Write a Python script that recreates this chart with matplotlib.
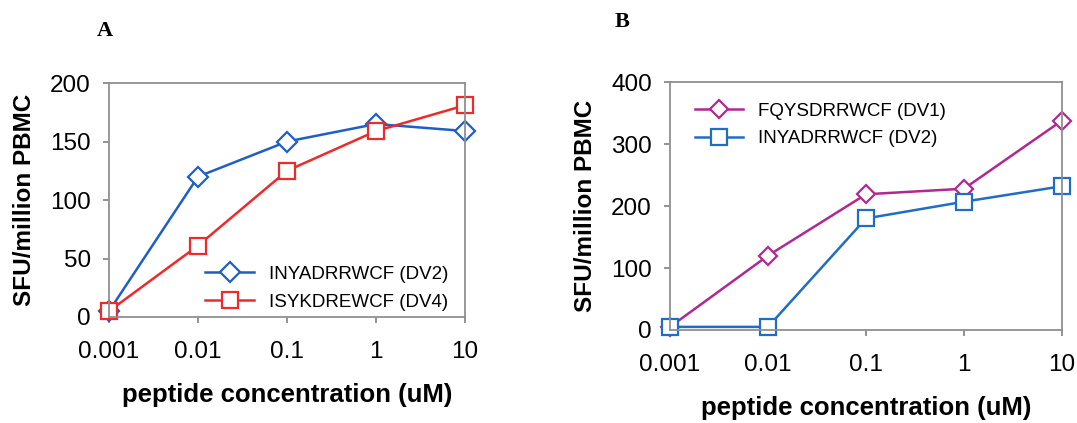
from matplotlib import pyplot as plt

conc = ['0.001', '0.01', '0.1', '1', '10']

# panel A
a_dv2 = [5, 120, 150, 165, 159]
a_dv4 = [5, 61, 125, 159, 181]
# panel B
b_dv1 = [5, 120, 219, 228, 338]
b_dv2 = [5, 5, 180, 207, 232]

plt.rcParams['font.family'] = ['Liberation Sans', 'DejaVu Sans']

fig = plt.figure(figsize=(10.77, 4.23), dpi=100)
axA = fig.add_axes([0.1012, 0.2506, 0.3306, 0.553])
axB = fig.add_axes([0.6221, 0.2199, 0.364, 0.586])

x = range(len(conc))

axA.plot(x, a_dv2, color='#1f5fc4', marker='D', markersize=10, mfc='white',
         mew=1.6, lw=1.8, label='INYADRRWCF (DV2)')
axA.plot(x, a_dv4, color='#f02a2a', marker='s', markersize=12, mfc='white',
         mew=1.6, lw=1.8, label='ISYKDREWCF (DV4)')
axA.set_ylim(0, 200)
axA.set_yticks([0, 50, 100, 150, 200])

axB.plot(x, b_dv1, color='#b02890', marker='D', markersize=9, mfc='white',
         mew=1.6, lw=1.8, label='FQYSDRRWCF (DV1)')
axB.plot(x, b_dv2, color='#1f6ec4', marker='s', markersize=12, mfc='white',
         mew=1.6, lw=1.8, label='INYADRRWCF (DV2)')
axB.set_ylim(0, 400)
axB.set_yticks([0, 100, 200, 300, 400])

for ax in (axA, axB):
    ax.set_xlim(0, 4)
    ax.set_xticks(list(x))
    ax.set_xticklabels(conc)
    ax.tick_params(labelsize=17.5, color='#808080', length=4, width=1.2)
    ax.tick_params(axis='x', pad=13)
    ax.tick_params(axis='y', pad=9)
    for s in ax.spines.values():
        s.set_color('#909090')
        s.set_linewidth(1.3)
    ax.set_ylabel('SFU/million PBMC', fontsize=17.5, fontweight='bold', labelpad=10)
    ax.set_xlabel('peptide concentration (uM)', fontsize=18.5, fontweight='bold', labelpad=15)
    for p in ax.lines:
        p.set_clip_on(False)

axA.legend(loc='lower right', frameon=False, fontsize=13.5, handlelength=2.6,
           borderaxespad=0.3, bbox_to_anchor=(0.99, -0.03), labelspacing=0.6)
axB.legend(loc='upper left', frameon=False, fontsize=13.5, handlelength=2.6,
           bbox_to_anchor=(0.02, 0.985), labelspacing=0.55)

fig.text(0.09, 0.915, 'A', fontsize=16, fontweight='bold', family='Liberation Serif')
fig.text(0.571, 0.935, 'B', fontsize=16, fontweight='bold', family='Liberation Serif')

fig.savefig('out.png', dpi=100)
